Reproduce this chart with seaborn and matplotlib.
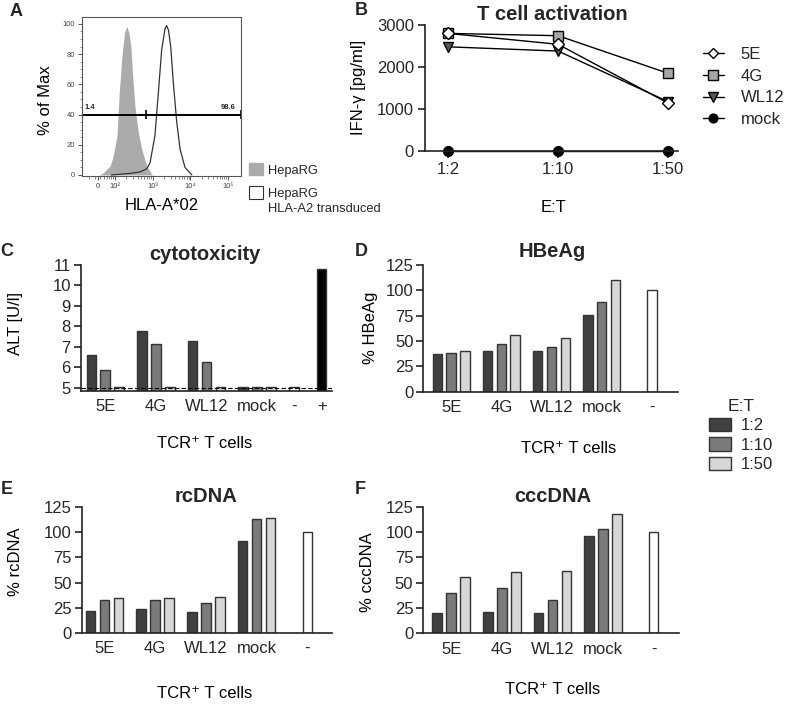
import numpy as np
import pandas as pd
import seaborn as sns
import matplotlib.pyplot as plt
from matplotlib.patches import Patch

sns.set_theme(style="ticks")
plt.rcParams["font.family"] = ["Liberation Sans", "DejaVu Sans"]

# ---- panel A: flow histogram (log10 fluorescence, % of max) ----
hepa_log = [1.58, 1.69, 1.87, 1.95, 2.05, 2.11, 2.18, 2.25, 2.31, 2.37, 2.42, 2.47, 2.53, 2.62, 2.71, 2.84, 2.99]
hepa_pct = [0, 1.5, 6, 12.5, 25.7, 54, 78, 94, 98.5, 94, 85, 65, 45, 28, 17, 6, 0]
a2_log = [1.90, 2.40, 2.66, 2.84, 2.93, 3.06, 3.15, 3.24, 3.33, 3.37, 3.42, 3.48, 3.55, 3.64, 3.73, 3.86, 4.04]
a2_pct = [0, 1, 2, 4, 8, 26, 54, 83, 97, 99, 96, 85, 61, 35, 17, 5, 0]
gate_y = 40
gate_split = 2.82
gate_labels = ["1.4", "98.6"]

# ---- panel B: IFN-gamma ----
et_ratios = ["1:2", "1:10", "1:50"]
ifng_5e = [2800, 2540, 1140]
ifng_4g = [2800, 2745, 1850]
ifng_wl12 = [2480, 2380, 1175]
ifng_mock = [0, 0, 0]

# ---- panels C-F: bars per TCR and E:T ----
tcr_groups = ["5E", "4G", "WL12", "mock"]
alt_5e = [6.62, 5.89, 5.03]
alt_4g = [7.78, 7.12, 5.03]
alt_wl12 = [7.27, 6.26, 5.03]
alt_mock = [5.04, 5.04, 5.03]
alt_ctrl = [5.03, 10.8]          # "-", "+"
hbeag_5e = [37.2, 37.8, 40.5]
hbeag_4g = [40.1, 47.0, 56.3]
hbeag_wl12 = [40.5, 44.4, 52.6]
hbeag_mock = [75.7, 88.5, 110.2]
hbeag_ctrl = [100]
rcdna_5e = [21.9, 32.8, 34.4]
rcdna_4g = [24.2, 32.5, 34.4]
rcdna_wl12 = [20.9, 29.5, 36.1]
rcdna_mock = [91.7, 112.9, 113.6]
rcdna_ctrl = [100]
cccdna_5e = [20.2, 39.4, 56.0]
cccdna_4g = [21.5, 44.7, 60.9]
cccdna_wl12 = [20.5, 33.1, 61.9]
cccdna_mock = [96.4, 102.6, 117.5]
cccdna_ctrl = [100]

palette = {"1:2": "#404040", "1:10": "#7b7b7b", "1:50": "#d7d7d7", "-": "white", "+": "black"}

W, H = 788, 708
fig = plt.figure(figsize=(W / 100, H / 100), dpi=100)


def rect(l, t, r, b):
    return [l / W, 1 - b / H, (r - l) / W, (b - t) / H]


def fpt(x, y):
    return (x / W, 1 - y / H)


def labels(ax, xl, yl, xpos, ypos, size=12):
    ax.set_xlabel(xl, fontsize=size, color="black")
    ax.set_ylabel(yl, fontsize=size, color="black")
    ax.xaxis.set_label_coords(*fpt(*xpos), transform=fig.transFigure)
    ax.yaxis.set_label_coords(*fpt(*ypos), transform=fig.transFigure)
    ax.xaxis.label.set_va("center")
    ax.yaxis.label.set_va("center")


def title(txt, x, y):
    fig.text(*fpt(x, y), txt, ha="center", va="center", fontsize=14.5, fontweight="bold")


for letter, x, y in [("A", 16.5, 11.5), ("B", 361.5, 10.5), ("C", 7, 251.5),
                     ("D", 361, 252), ("E", 7, 489), ("F", 360, 490)]:
    fig.text(*fpt(x, y), letter, ha="center", va="center", fontsize=13, fontweight="bold")

# ================= A =================
axA = fig.add_axes(rect(82, 17, 241, 175.7))
axA.fill_between(hepa_log, hepa_pct, color="#ababab", lw=0)
sns.lineplot(x=a2_log, y=a2_pct, ax=axA, color="#333333", lw=0.9, sort=False)
axA.set_xlim(1.12, 5.35)
axA.set_ylim(-0.5, 104.6)
axA.axhline(gate_y, color="black", lw=1.4)
axA.vlines([1.125, gate_split, 5.345], gate_y - 3, gate_y + 3, color="black", lw=1.2)
axA.text(1.18, gate_y + 2.5, gate_labels[0], fontsize=5.5, fontweight="bold", va="bottom")
axA.text(5.22, gate_y + 2.5, gate_labels[1], fontsize=5.5, fontweight="bold", va="bottom", ha="right")
axA.set_xticks([1.55, 2, 3, 4, 5], ["0", "10²", "10³", "10⁴", "10⁵"])
axA.set_xticks([np.log10(m * 10.0 ** k) for k in range(1, 5) for m in range(2, 10)], minor=True)
axA.set_yticks(range(0, 101, 20))
axA.set_yticks(range(0, 105, 5), minor=True)
axA.tick_params(labelsize=5.5, labelcolor="#444444", color="#555555", length=3, width=0.7, pad=2)
axA.tick_params(which="minor", length=1.8, width=0.5, color="#555555")
for s in axA.spines.values():
    s.set_color("#555555")
    s.set_linewidth(0.8)
labels(axA, "HLA-A*02", "% of Max", (162, 206), (46, 100))

fig.legend(handles=[Patch(facecolor="#ababab", edgecolor="#ababab"),
                    Patch(facecolor="white", edgecolor="#333333", lw=0.8)],
           labels=["HepaRG", "HepaRG"], loc="upper left", bbox_to_anchor=fpt(249, 163),
           frameon=False, fontsize=9.3, handlelength=1.1, handleheight=1.1,
           handletextpad=0.35, labelspacing=0.75, borderpad=0, borderaxespad=0)
fig.text(*fpt(268, 209), "HLA-A2 transduced", fontsize=9.3, va="center")

# ================= B =================
axB = fig.add_axes(rect(425, 25, 678, 151))
et_x = np.arange(len(et_ratios))
b_series = [("4G", ifng_4g, "s", "#a6a6a6", 7.5),
            ("WL12", ifng_wl12, "v", "#555555", 7.5),
            ("mock", ifng_mock, "o", "black", 7),
            ("5E", ifng_5e, "D", "white", 6)]
for name, vals, mk, fc, ms in b_series:
    sns.lineplot(x=et_x, y=vals, ax=axB, color="black", lw=1, marker=mk,
                 markerfacecolor=fc, markeredgecolor="black", markeredgewidth=1,
                 markersize=ms, label=name, clip_on=False, legend=False)
axB.set_xlim(-0.21, 2.09)
axB.set_ylim(0, 3000)
axB.set_yticks([0, 1000, 2000, 3000])
axB.set_xticks(et_x, et_ratios)
sns.despine(ax=axB)
for s in ["left", "bottom"]:
    axB.spines[s].set_linewidth(1.2)
    axB.spines[s].set_color("#222222")
axB.tick_params(labelsize=12, length=5, width=1.2, color="#222222", pad=3)
labels(axB, "E:T", "IFN-γ [pg/ml]", (553, 208), (358, 87))
title("T cell activation", 552.5, 15)
h, l = axB.get_legend_handles_labels()
order = [l.index(n) for n in ["5E", "4G", "WL12", "mock"]]
fig.legend([h[i] for i in order], [l[i] for i in order], loc="upper left",
           bbox_to_anchor=fpt(703, 47), frameon=False, fontsize=12, handlelength=1.25,
           handletextpad=1.0, labelspacing=0.4, borderpad=0, borderaxespad=0,
           markerscale=0.9)


# ================= C-F =================
def bar_frame(groups, ctrl_vals, ctrl_keys, ctrl_pos, off):
    rows = []
    for i, vals in enumerate(groups):
        for j, v in enumerate(vals):
            rows.append((i + (j - 1) * off, v, et_ratios[j]))
    for v, k, p in zip(ctrl_vals, ctrl_keys, ctrl_pos):
        rows.append((p, v, k))
    return pd.DataFrame(rows, columns=["pos", "val", "kind"])


def bar_panel(box, groups, ctrl_vals, ctrl_keys, ctrl_pos, xlim, ylim, yticks, off=0.276):
    ax = fig.add_axes(rect(*box))
    df = bar_frame(groups, ctrl_vals, ctrl_keys, ctrl_pos, off)
    sns.barplot(data=df, x="pos", y="val", hue="kind", palette=palette, native_scale=True,
                dodge=False, width=0.19 / off, errorbar=None, edgecolor="#333333",
                linewidth=1, legend=False, ax=ax)
    ax.set_xlim(*xlim)
    ax.set_ylim(*ylim)
    ax.set_yticks(yticks)
    ax.set_xticks(list(range(len(tcr_groups))) + list(ctrl_pos), tcr_groups + ctrl_keys)
    sns.despine(ax=ax)
    for s in ["left", "bottom"]:
        ax.spines[s].set_linewidth(1.2)
        ax.spines[s].set_color("#222222")
    ax.tick_params(axis="y", labelsize=12, length=5, width=1.2, color="#222222", pad=2)
    ax.tick_params(axis="x", labelsize=12, length=0, pad=6)
    return ax


axC = bar_panel((80.5, 265, 332, 391), [alt_5e, alt_4g, alt_wl12, alt_mock],
                alt_ctrl, ["-", "+"], [4 - 0.276, 4 + 0.276], (-0.49, 4.48), (4.84, 11),
                range(5, 12))
axC.axhline(5, color="black", lw=0.8, ls=(0, (4, 2)))
labels(axC, "TCR⁺ T cells", "ALT [U/l]", (205, 444), (16, 323))
title("cytotoxicity", 205, 254)

axD = bar_panel((423.3, 265, 678, 391.7), [hbeag_5e, hbeag_4g, hbeag_wl12, hbeag_mock],
                hbeag_ctrl, ["-"], [4], (-0.556, 4.52), (0, 125), range(0, 126, 25))
labels(axD, "TCR⁺ T cells", "% HBeAg", (569, 448), (370, 328))
title("HBeAg", 552, 251.5)

axE = bar_panel((81.7, 507, 331.7, 633), [rcdna_5e, rcdna_4g, rcdna_wl12, rcdna_mock],
                rcdna_ctrl, ["-"], [4], (-0.45, 4.48), (0, 125), range(0, 126, 25))
labels(axE, "TCR⁺ T cells", "% rcDNA", (205, 694), (16, 562))
title("rcDNA", 206, 497)

axF = bar_panel((423, 506.7, 679, 633.3), [cccdna_5e, cccdna_4g, cccdna_wl12, cccdna_mock],
                cccdna_ctrl, ["-"], [4], (-0.556, 4.5), (0, 125), range(0, 126, 25))
labels(axF, "TCR⁺ T cells", "% cccDNA", (553, 690), (368, 572))
title("cccDNA", 552.5, 496)

et_handles = [Patch(facecolor=palette[k], edgecolor="#333333", lw=1, label=k) for k in et_ratios]
fig.legend(handles=et_handles, title="E:T", loc="upper left", bbox_to_anchor=fpt(709, 399),
           frameon=False, fontsize=12, title_fontsize=12.5, handlelength=1.3, handleheight=0.85,
           handletextpad=0.6, labelspacing=0.24, borderpad=0, borderaxespad=0)

fig.savefig("out.png", dpi=100, facecolor="white")
